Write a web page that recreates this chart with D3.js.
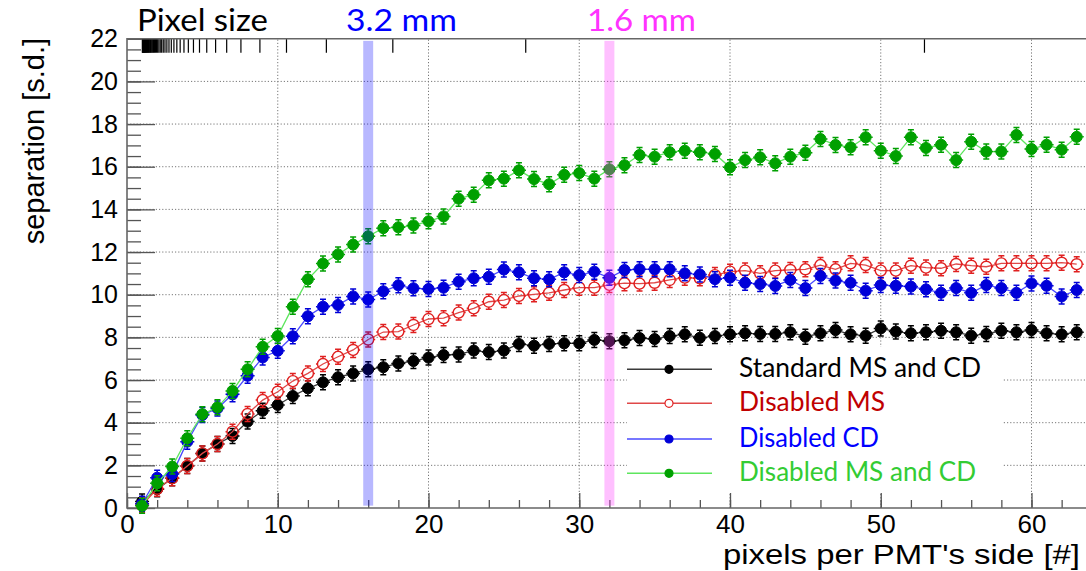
<!DOCTYPE html>
<html><head><meta charset="utf-8">
<script src="https://cdn.jsdelivr.net/npm/d3@7"></script>
<style>html,body{margin:0;padding:0;background:#fff;overflow:hidden}</style>
</head><body>
<svg id="c" width="1086" height="571"></svg>
<script>
// ---- data ----
const pixelsPerSide = d3.range(1, 64);
const standardMSCD = [0.3,0.88,1.39,1.97,2.56,3.0,3.38,4.05,4.56,4.83,5.25,5.61,5.89,6.13,6.31,6.5,6.6,6.78,6.89,7.05,7.17,7.2,7.38,7.31,7.38,7.69,7.61,7.69,7.72,7.72,7.88,7.82,7.86,7.97,7.92,8.06,8.14,7.98,8.06,8.14,8.19,8.16,8.16,8.24,8.03,8.19,8.34,8.14,8.08,8.42,8.27,8.19,8.24,8.31,8.24,8.08,8.16,8.31,8.24,8.34,8.19,8.14,8.24];
const disabledMS = [0.14,0.9,1.4,1.97,2.56,3.0,3.58,4.41,5.06,5.45,5.95,6.31,6.75,7.09,7.41,7.9,8.25,8.27,8.58,8.86,8.9,9.16,9.36,9.67,9.75,9.94,10.02,10.09,10.22,10.33,10.33,10.46,10.54,10.52,10.56,10.69,10.8,10.77,10.92,11.08,11.13,11.0,11.13,11.16,11.19,11.39,11.19,11.47,11.39,11.13,11.13,11.36,11.27,11.24,11.44,11.36,11.31,11.47,11.47,11.47,11.47,11.5,11.43];
const disabledCD = [0.2,1.42,1.59,3.11,4.36,4.67,5.33,6.2,7.06,7.37,8.05,8.99,9.44,9.52,9.92,9.77,10.16,10.44,10.3,10.27,10.33,10.61,10.77,10.84,11.18,11.05,10.77,10.72,11.05,10.92,11.08,10.79,11.16,11.19,11.19,11.19,11.0,10.95,10.73,10.8,10.56,10.5,10.41,10.69,10.31,10.88,10.66,10.56,10.19,10.45,10.42,10.38,10.25,10.09,10.31,10.09,10.45,10.31,10.09,10.53,10.42,9.92,10.22];
const disabledMSCD = [0.1,1.16,1.94,3.27,4.4,4.72,5.49,6.5,7.56,8.06,9.44,10.72,11.46,11.89,12.35,12.74,13.12,13.16,13.25,13.44,13.67,14.5,14.69,15.36,15.44,15.83,15.42,15.18,15.62,15.7,15.44,15.88,16.07,16.55,16.47,16.68,16.75,16.68,16.6,15.97,16.31,16.44,16.16,16.47,16.66,17.3,17.02,16.91,17.38,16.75,16.5,17.38,16.88,17.03,16.31,17.17,16.71,16.71,17.49,16.83,17.03,16.8,17.4];
const seriesNames = ["Standard MS and CD","Disabled MS","Disabled CD","Disabled MS and CD"];
const xTicksMajor = [0,10,20,30,40,50,60];
const yTicksMajor = [0,2,4,6,8,10,12,14,16,18,20,22];
const pixelSizeTicksMM = d3.range(1, 53);
const pixelSizeFactor = 52.9; // pixels per side = factor / pixel size [mm]
const bandCenters = [16, 32];
const bandLabels = ["3.2 mm", "1.6 mm"];

// ---- layout ----
const svg = d3.select("#c");
const x = d3.scaleLinear().domain([0, 64.5]).range([127, 127 + 64.5*15.075]);
const y = d3.scaleLinear().domain([0, 22]).range([508, 508 - 22*21.33]);
const X0 = x(0), X1 = x(64.5), Y0 = y(0), Y1 = y(22);

// grid
const grid = svg.append("g").attr("stroke","#777").attr("stroke-width",1).attr("stroke-dasharray","1.2,2");
grid.selectAll(".gx").data(xTicksMajor.filter(d=>d>0)).join("line")
  .attr("x1",d=>x(d)).attr("x2",d=>x(d)).attr("y1",Y0).attr("y2",Y1);
grid.selectAll(".gy").data(yTicksMajor.filter(d=>d>0&&d<22)).join("line")
  .attr("y1",d=>y(d)).attr("y2",d=>y(d)).attr("x1",X0).attr("x2",X1);

// legend background (covers grid)
svg.append("rect").attr("x",627).attr("y",347).attr("width",376).attr("height",145).attr("fill","#fff");

// axes
const axisColor = "#555";
function styleAxis(g){ g.select(".domain").remove(); g.selectAll("line").attr("stroke",axisColor).attr("stroke-width",1.3); }
svg.append("g").attr("transform",`translate(0,${Y0})`)
  .call(d3.axisBottom(x).tickValues(d3.range(0,64,2)).tickSize(-8).tickFormat(""))
  .call(styleAxis);
svg.append("g").attr("transform",`translate(0,${Y0})`)
  .call(d3.axisBottom(x).tickValues(xTicksMajor).tickSize(-15).tickPadding(7))
  .call(styleAxis)
  .call(g=>g.selectAll("text").attr("font-family","Liberation Sans, Arial, sans-serif").attr("font-size",26).attr("fill","#000"));
svg.append("g").attr("transform",`translate(${X0},0)`)
  .call(d3.axisLeft(y).tickValues(d3.range(0,22.01,0.5)).tickSize(-14).tickFormat(""))
  .call(styleAxis);
svg.append("g").attr("transform",`translate(${X0},0)`)
  .call(d3.axisLeft(y).tickValues(yTicksMajor).tickSize(-28).tickPadding(9))
  .call(styleAxis)
  .call(g=>g.selectAll("text").attr("font-family","Liberation Sans, Arial, sans-serif").attr("font-size",25).attr("fill","#000"));

// top pixel-size axis ticks
svg.append("g").selectAll("line").data(pixelSizeTicksMM).join("line")
  .attr("x1",d=>x(pixelSizeFactor/d)).attr("x2",d=>x(pixelSizeFactor/d))
  .attr("y1",Y1).attr("y2",Y1+14).attr("stroke","#000").attr("stroke-width",1.2);

// frame
svg.append("path").attr("d",`M${X1},${Y1}H${X0}V${Y0}H${X1}`).attr("fill","none").attr("stroke","#666").attr("stroke-width",1.6);

// series
const series = [
  {vals: standardMSCD, line:"#3a3a3a", mark:"#000", open:false},
  {vals: disabledMS,   line:"#e04848", mark:"#e02020", open:true},
  {vals: disabledCD,   line:"#4a4aff", mark:"#0000d8", open:false},
  {vals: disabledMSCD, line:"#5ee65e", mark:"#00a000", open:false}
];
const line = d3.line().x((d,i)=>x(pixelsPerSide[i])).y(d=>y(d));
series.forEach(s=>{
  const g = svg.append("g");
  g.append("path").datum(s.vals).attr("d",line).attr("fill","none").attr("stroke",s.line).attr("stroke-width",1.3);
  const p = g.selectAll("g.pt").data(s.vals).join("g")
    .attr("transform",(d,i)=>`translate(${x(pixelsPerSide[i])},${y(d)})`);
  p.append("path").attr("d","M0,-7.5V-5.5M0,5.5V7.5M-3,-7.5H3M-3,7.5H3M-7,0H-5.5M5.5,0H7").attr("stroke",s.mark).attr("stroke-width",1.5).attr("fill","none");
  p.append("circle").attr("r",5.5)
    .attr("fill",s.open?"none":s.mark).attr("stroke",s.mark).attr("stroke-width",s.open?1.4:1);
});

// bands
svg.append("g").selectAll("rect").data(bandCenters).join("rect")
  .attr("x",d=>x(d-0.33)).attr("width",d=>x(d+0.33)-x(d-0.33))
  .attr("y",y(21.9)).attr("height",y(0.11)-y(21.9))
  .attr("fill",(d,i)=>i===0?"rgba(0,0,255,0.28)":"rgba(255,60,255,0.32)");

// top texts
const topFont = "Lato, 'Open Sans', sans-serif";
svg.append("text").attr("x",137).attr("y",31).attr("font-family",topFont).attr("font-size",31)
  .attr("textLength",131).attr("lengthAdjust","spacingAndGlyphs").text("Pixel size");
const bandTextX = [346, 587], bandTextW = [111, 109], bandColors = ["#0000ff","#ff33ff"];
bandLabels.forEach((t,i)=>{
  svg.append("text").attr("x",bandTextX[i]).attr("y",31).attr("font-family",topFont).attr("font-size",31)
    .attr("fill",bandColors[i]).attr("textLength",bandTextW[i]).attr("lengthAdjust","spacingAndGlyphs").text(t);
});

// axis titles
svg.append("text").attr("transform","translate(44,38) rotate(-90)").attr("text-anchor","end")
  .attr("font-family","Liberation Sans, Arial, sans-serif").attr("font-size",29).text("separation [s.d.]");
svg.append("text").attr("x",1080).attr("y",564).attr("text-anchor","end")
  .attr("font-family","Liberation Sans, Arial, sans-serif").attr("font-size",28).attr("textLength",357)
  .attr("lengthAdjust","spacingAndGlyphs").text("pixels per PMT's side [#]");

// legend
const legY = [369.3, 403.3, 439, 473.3];
const legText = ["#000","#c00000","#0000ff","#33cc33"];
const legW = [242,146,140,237];
seriesNames.forEach((nm,i)=>{
  const s = series[i];
  svg.append("line").attr("x1",627).attr("x2",712).attr("y1",legY[i]).attr("y2",legY[i]).attr("stroke",s.line).attr("stroke-width",1.5);
  svg.append("circle").attr("cx",669).attr("cy",legY[i]).attr("r",4)
    .attr("fill",s.open?"#fff":s.mark).attr("stroke",s.mark).attr("stroke-width",1.2);
  svg.append("text").attr("x",739).attr("y",legY[i]+8).attr("font-family",topFont).attr("font-size",26)
    .attr("fill",legText[i]).attr("textLength",legW[i]).attr("lengthAdjust","spacingAndGlyphs").text(nm);
});
</script>
</body></html>
